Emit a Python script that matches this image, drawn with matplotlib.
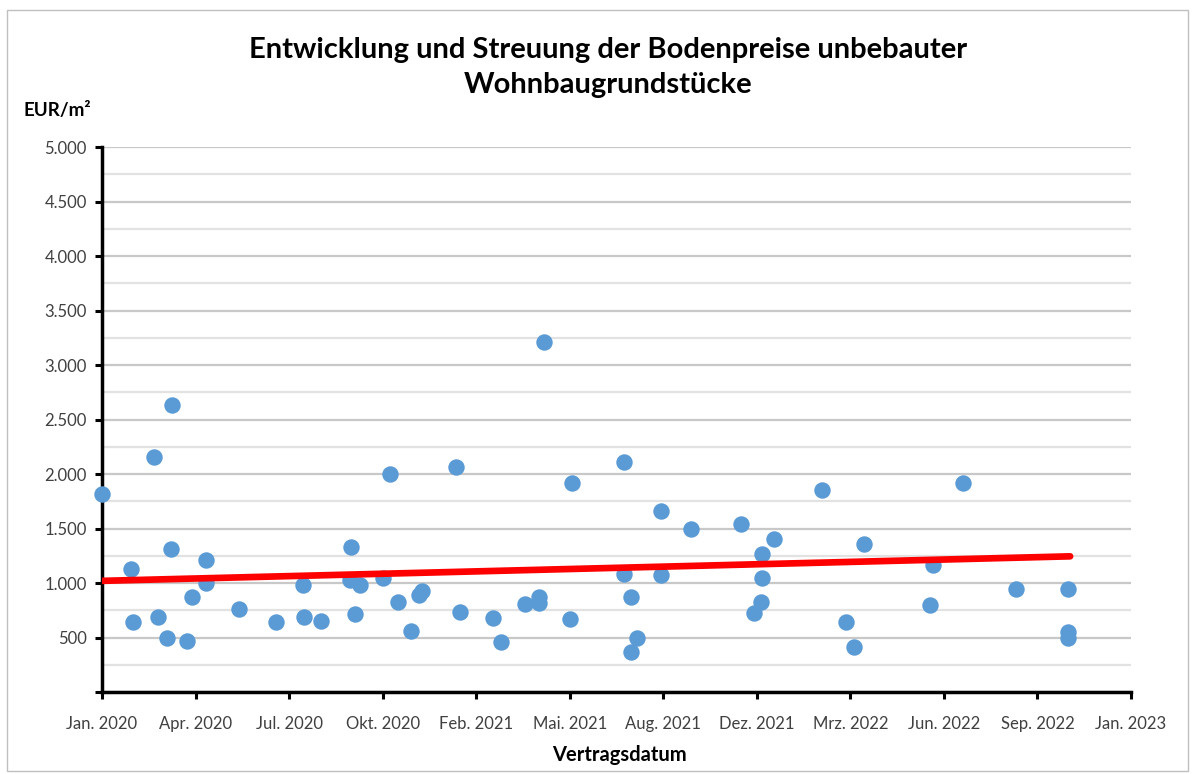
import numpy as np
import matplotlib
matplotlib.use("Agg")
import matplotlib.pyplot as plt
from matplotlib.patches import Rectangle

# Vertragsdatum als Tage seit 01.01.2020, Bodenpreis in EUR/m²
days = [0, 31, 33, 56, 60, 69, 75, 74, 91, 96, 111, 111, 147, 186,
        215, 216, 234, 266, 265, 276, 271, 300, 308, 316, 330, 339, 342,
        378, 383, 418, 427, 452, 467, 467, 473, 500, 502,
        558, 558, 566, 572, 566, 598, 598, 630, 683, 697, 704, 706, 706,
        718, 770, 795, 804, 815, 888, 885, 920, 977, 1033, 1033, 1033]
prices = [1815, 1125, 640, 2160, 685, 500, 2635, 1315, 465, 868, 1210, 1000, 760, 645,
          978, 685, 655, 1330, 1030, 980, 715, 1042, 1996, 822, 563, 892, 926,
          2066, 731, 675, 456, 804, 868, 820, 3216, 666, 1915,
          2112, 1085, 868, 492, 364, 1665, 1078, 1492, 1540, 728, 822, 1042, 1271,
          1408, 1858, 639, 410, 1354, 1167, 795, 1920, 942, 942, 552, 492]

trend_days = [0, 1035]
trend_values = [1020, 1245]

tick_days = list(range(0, 1101, 100))
tick_labels = ["Jan. 2020", "Apr. 2020", "Jul. 2020", "Okt. 2020", "Feb. 2021",
               "Mai. 2021", "Aug. 2021", "Dez. 2021", "Mrz. 2022", "Jun. 2022",
               "Sep. 2022", "Jan. 2023"]
y_ticks = list(range(0, 5001, 500))
y_labels = ["" if v == 0 else f"{v:,}".replace(",", ".") for v in y_ticks]

plt.rcParams["font.family"] = ["Lato", "DejaVu Sans"]

fig = plt.figure(figsize=(11.94, 7.74), dpi=100)
fig.patches.append(Rectangle((0.006, 0.004), 0.989, 0.983, transform=fig.transFigure,
                             fill=False, edgecolor="#bfbfbf", linewidth=1))
ax = fig.add_axes([0.0854, 0.1059, 0.8618, 0.7041])

ax.set_xlim(0, 1100)
ax.set_ylim(0, 5000)
ax.set_yticks(np.arange(0, 5001, 250), minor=True)
ax.grid(True, which="major", axis="y", color="#c8c8c8", linewidth=1.6)
ax.grid(True, which="minor", axis="y", color="#e2e2e2", linewidth=1.6)
ax.set_axisbelow(True)

ax.scatter(days, prices, s=140, color="#5B9BD5", zorder=3, linewidths=0, clip_on=False)
ax.plot(trend_days, trend_values, color="#FF0000", linewidth=4.8, zorder=4,
        solid_capstyle="round")

ax.set_xticks(tick_days)
ax.set_xticklabels(tick_labels)
ax.set_yticks(y_ticks)
ax.set_yticklabels(y_labels)
ax.tick_params(axis="both", which="major", length=5, width=2.2, color="black",
               labelsize=12, labelcolor="#404040", pad=6)
ax.tick_params(axis="y", which="minor", length=0)
ax.tick_params(axis="x", pad=12)

for side in ["top", "right"]:
    ax.spines[side].set_visible(False)
for side in ["left", "bottom"]:
    ax.spines[side].set_linewidth(2.5)
    ax.spines[side].set_color("black")

fig.text(0.509, 0.913, "Entwicklung und Streuung der Bodenpreise unbebauter\nWohnbaugrundstücke",
         ha="center", va="center", fontsize=21, fontweight="bold", linespacing=1.4)
fig.text(0.020, 0.857, "EUR/m²", ha="left", va="center", fontsize=13.5, fontweight="bold")
fig.text(0.519, 0.025, "Vertragsdatum", ha="center", va="center", fontsize=14.5, fontweight="bold")

fig.savefig("out.png", dpi=100)
